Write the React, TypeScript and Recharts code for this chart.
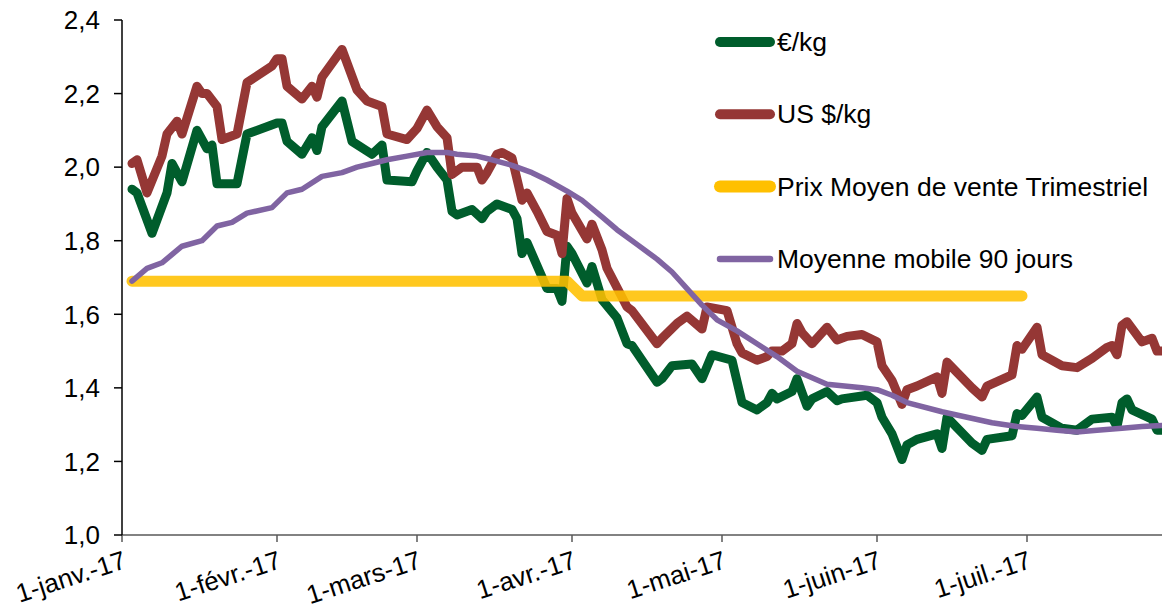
import { LineChart, Line, XAxis, YAxis, Legend } from 'recharts';

const FONT = '"Liberation Sans", Arial, sans-serif';

// x axis: day of year 2017 (0 = 1 Jan)
const monthTicks = [0, 31, 59, 90, 120, 151, 181];
const monthLabels = ['1-janv.-17', '1-févr.-17', '1-mars-17', '1-avr.-17', '1-mai-17', '1-juin-17', '1-juil.-17'];
const yTicks = [1.0, 1.2, 1.4, 1.6, 1.8, 2.0, 2.2, 2.4];

const eurDays = [
  2, 3, 6, 9, 10, 12, 15, 17, 18, 19, 23, 25, 31, 32, 33, 36, 38, 39, 40, 44,
  46, 50, 52, 53, 58, 59, 61, 63, 65, 66, 67, 70, 72, 73, 75, 78, 79, 80, 81, 85,
  87, 88, 89, 90, 93, 94, 96, 99, 101, 102, 107, 108, 110, 114, 116, 118, 122, 124, 127, 129,
  130, 131, 134, 135, 137, 138, 141, 143, 144, 149, 151, 152, 154, 156, 157, 159, 163, 164, 165, 170,
  172, 173, 178, 179, 180, 183, 184, 188, 191, 194, 198, 199, 200, 201, 202, 206, 207, 208,
];
const eurValues = [
  1.94, 1.93, 1.82, 1.93, 2.01, 1.96, 2.1, 2.05, 2.06, 1.955, 1.955, 2.09, 2.12, 2.12, 2.07, 2.035, 2.08, 2.045, 2.11, 2.18,
  2.07, 2.035, 2.06, 1.965, 1.96, 1.99, 2.04, 2.0, 1.965, 1.88, 1.87, 1.885, 1.86, 1.88, 1.9, 1.885, 1.86, 1.765, 1.795, 1.67,
  1.67, 1.635, 1.785, 1.765, 1.685, 1.73, 1.64, 1.59, 1.52, 1.515, 1.415, 1.425, 1.46, 1.465, 1.425, 1.49, 1.475, 1.36, 1.34, 1.36,
  1.385, 1.37, 1.39, 1.425, 1.35, 1.37, 1.39, 1.365, 1.37, 1.38, 1.36, 1.32, 1.275, 1.205, 1.245, 1.26, 1.275, 1.235, 1.32, 1.25,
  1.23, 1.26, 1.27, 1.33, 1.325, 1.375, 1.32, 1.29, 1.285, 1.315, 1.32, 1.295, 1.36, 1.37, 1.34, 1.315, 1.285, 1.285,
];

const usdDays = [
  2, 3, 5, 8, 9, 11, 12, 15, 16, 17, 19, 20, 23, 25, 30, 31, 32, 33, 36, 38,
  39, 40, 44, 47, 49, 52, 53, 57, 59, 61, 63, 65, 66, 68, 71, 72, 73, 75, 76, 78,
  80, 81, 83, 85, 87, 88, 89, 90, 93, 94, 96, 97, 101, 102, 107, 108, 111, 113, 116, 117,
  121, 123, 124, 127, 129, 130, 132, 134, 135, 136, 138, 141, 143, 145, 148, 151, 152, 154, 156, 157,
  159, 163, 164, 165, 170, 172, 173, 178, 179, 180, 183, 184, 188, 191, 194, 197, 198, 199, 200, 201,
  204, 206, 207, 208,
];
const usdValues = [
  2.01, 2.02, 1.93, 2.03, 2.09, 2.125, 2.09, 2.22, 2.2, 2.2, 2.165, 2.075, 2.09, 2.23, 2.275, 2.295, 2.295, 2.22, 2.185, 2.22,
  2.19, 2.245, 2.32, 2.21, 2.18, 2.165, 2.09, 2.075, 2.105, 2.155, 2.11, 2.08, 1.98, 2.0, 2.0, 1.965, 1.985, 2.035, 2.04, 2.025,
  1.91, 1.93, 1.88, 1.825, 1.815, 1.765, 1.915, 1.875, 1.805, 1.845, 1.775, 1.725, 1.62, 1.61, 1.52, 1.535, 1.575, 1.595, 1.56, 1.62,
  1.61, 1.52, 1.495, 1.475, 1.485, 1.5, 1.5, 1.52, 1.575, 1.55, 1.52, 1.565, 1.53, 1.54, 1.545, 1.525, 1.46, 1.42, 1.355, 1.395,
  1.405, 1.43, 1.385, 1.47, 1.4, 1.375, 1.405, 1.435, 1.515, 1.505, 1.565, 1.49, 1.46, 1.455, 1.48, 1.51, 1.515, 1.49, 1.57, 1.58,
  1.525, 1.535, 1.5, 1.5,
];

const trimDays = [2, 89, 92, 180];
const trimValues = [1.69, 1.69, 1.65, 1.65];

const mm90Days = [
  2, 5, 8, 12, 16, 19, 22, 25, 30, 33, 36, 40, 44, 47, 50, 53, 57, 61, 65, 67,
  71, 74, 78, 82, 85, 89, 92, 96, 99, 103, 107, 110, 113, 116, 119, 123, 127, 131, 135, 141,
  148, 151, 154, 157, 164, 169, 174, 179, 183, 187, 191, 195, 200, 204, 208,
];
const mm90Values = [
  1.69, 1.725, 1.74, 1.785, 1.8, 1.84, 1.85, 1.875, 1.89, 1.93, 1.94, 1.975, 1.985, 2.0, 2.01, 2.02, 2.03, 2.04, 2.04, 2.035,
  2.03, 2.02, 2.005, 1.985, 1.965, 1.935, 1.91, 1.865, 1.83, 1.79, 1.75, 1.715, 1.67, 1.625, 1.585, 1.555, 1.52, 1.485, 1.445, 1.41,
  1.4, 1.395, 1.38, 1.36, 1.335, 1.32, 1.305, 1.295, 1.29, 1.285, 1.28, 1.285, 1.29, 1.295, 1.298,
];

const toRows = (days: number[], values: number[]) => days.map((day, i) => ({ day, value: values[i] }));

const series = [
  { name: '€/kg', color: '#005D2C', width: 9, opacity: 1, rows: toRows(eurDays, eurValues) },
  { name: 'US $/kg', color: '#953735', width: 9, opacity: 1, rows: toRows(usdDays, usdValues) },
  { name: 'Prix Moyen de vente Trimestriel', color: '#FFC000', width: 11, opacity: 0.88, rows: toRows(trimDays, trimValues) },
  { name: 'Moyenne mobile 90 jours', color: '#8064A2', width: 5.5, opacity: 1, rows: toRows(mm90Days, mm90Values) },
];

function DateTick({ x, y, payload }: any) {
  const label = monthLabels[monthTicks.indexOf(payload.value)];
  return (
    <text
      x={x}
      y={y}
      dy="0.71em"
      textAnchor="end"
      transform={`rotate(-18, ${x}, ${y})`}
      fontSize={26}
      fontFamily={FONT}
      fill="#000"
    >
      {label}
    </text>
  );
}

function LegendBox() {
  return (
    <svg width={462} height={280}>
      {series.map((s, i) => {
        const cy = 42 + i * 72.3;
        return (
          <g key={s.name}>
            <line x1={20} x2={70} y1={cy} y2={cy} stroke={s.color} strokeWidth={s.width + 1} strokeLinecap="round" />
            <text x={77} y={cy + 9} fontSize={26.5} fontFamily={FONT} fill="#000">
              {s.name}
            </text>
          </g>
        );
      })}
    </svg>
  );
}

export default function App() {
  return (
    <div style={{ position: 'absolute', left: 0, top: 0, width: 1162, height: 606, background: '#fff' }}>
      <LineChart width={1162} height={606} margin={{ top: 20, right: 0, bottom: 0, left: 0 }}>
        <XAxis
          dataKey="day"
          type="number"
          domain={[0, 208]}
          ticks={monthTicks}
          interval={0}
          allowDataOverflow
          height={71}
          tickSize={7}
          tickMargin={8}
          stroke="#595959"
          strokeWidth={1.5}
          tick={(props: any) => <DateTick {...props} />}
        />
        <YAxis
          type="number"
          domain={[1, 2.4]}
          ticks={yTicks}
          interval={0}
          width={122}
          tickSize={8}
          tickMargin={14}
          stroke="#000"
          strokeWidth={1.5}
          tick={{ fontSize: 26, fill: '#000', fontFamily: FONT }}
          tickFormatter={(v: number) => v.toFixed(1).replace('.', ',')}
        />
        {series.map((s) => (
          <Line
            key={s.name}
            name={s.name}
            data={s.rows}
            dataKey="value"
            type="linear"
            stroke={s.color}
            strokeWidth={s.width}
            strokeOpacity={s.opacity}
            strokeLinejoin="round"
            strokeLinecap="round"
            dot={false}
            activeDot={false}
            isAnimationActive={false}
          />
        ))}
        <Legend
          layout="vertical"
          align="center"
          verticalAlign="middle"
          wrapperStyle={{ left: 700, top: 0, width: 462, height: 280 }}
          content={() => <LegendBox />}
        />
      </LineChart>
    </div>
  );
}
